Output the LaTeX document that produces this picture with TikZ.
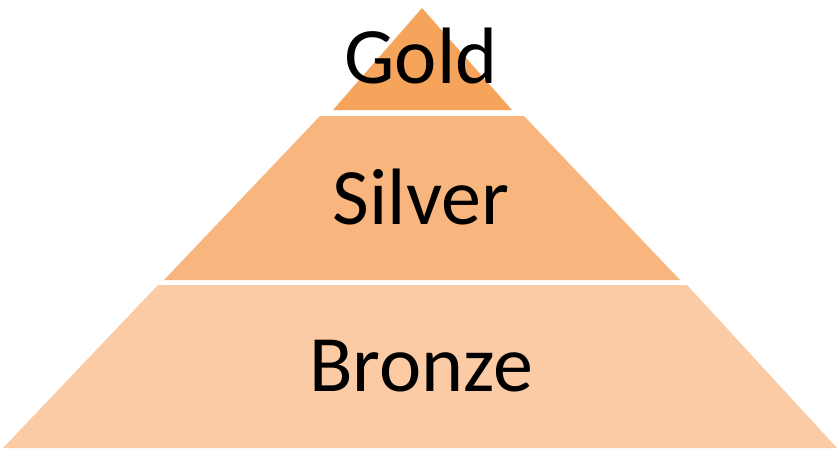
\documentclass[tikz,border=0pt]{standalone}
\usepackage{fontspec}
\setmainfont{Carlito}
\usepackage{xcolor}
\usepackage{tikz}
\definecolor{goldfill}{HTML}{F6A45B}
\definecolor{silverfill}{HTML}{F8B57E}
\definecolor{bronzefill}{HTML}{FACBA4}
\tikzset{tier/.style={font=\fontsize{80}{82}\selectfont, text=black, inner sep=0pt}}

\begin{document}
\begin{tikzpicture}[x=1pt, y=-1pt]
    \useasboundingbox (0,0) rectangle (837,450);
    \fill[goldfill] (422,8) -- (333,110) -- (512,110) -- cycle;
    \fill[silverfill] (320,116) -- (524,116) -- (680,280) -- (164,280) -- cycle;
    \fill[bronzefill] (158,285) -- (687,285) -- (837,448) -- (3,448) -- cycle;
    \node[tier] (gold) at (421,56) {Gold};
    \node[tier] (silver) at (421,197) {Silver};
    \node[tier] (bronze) at (421,366) {Bronze};
\end{tikzpicture}
\end{document}
